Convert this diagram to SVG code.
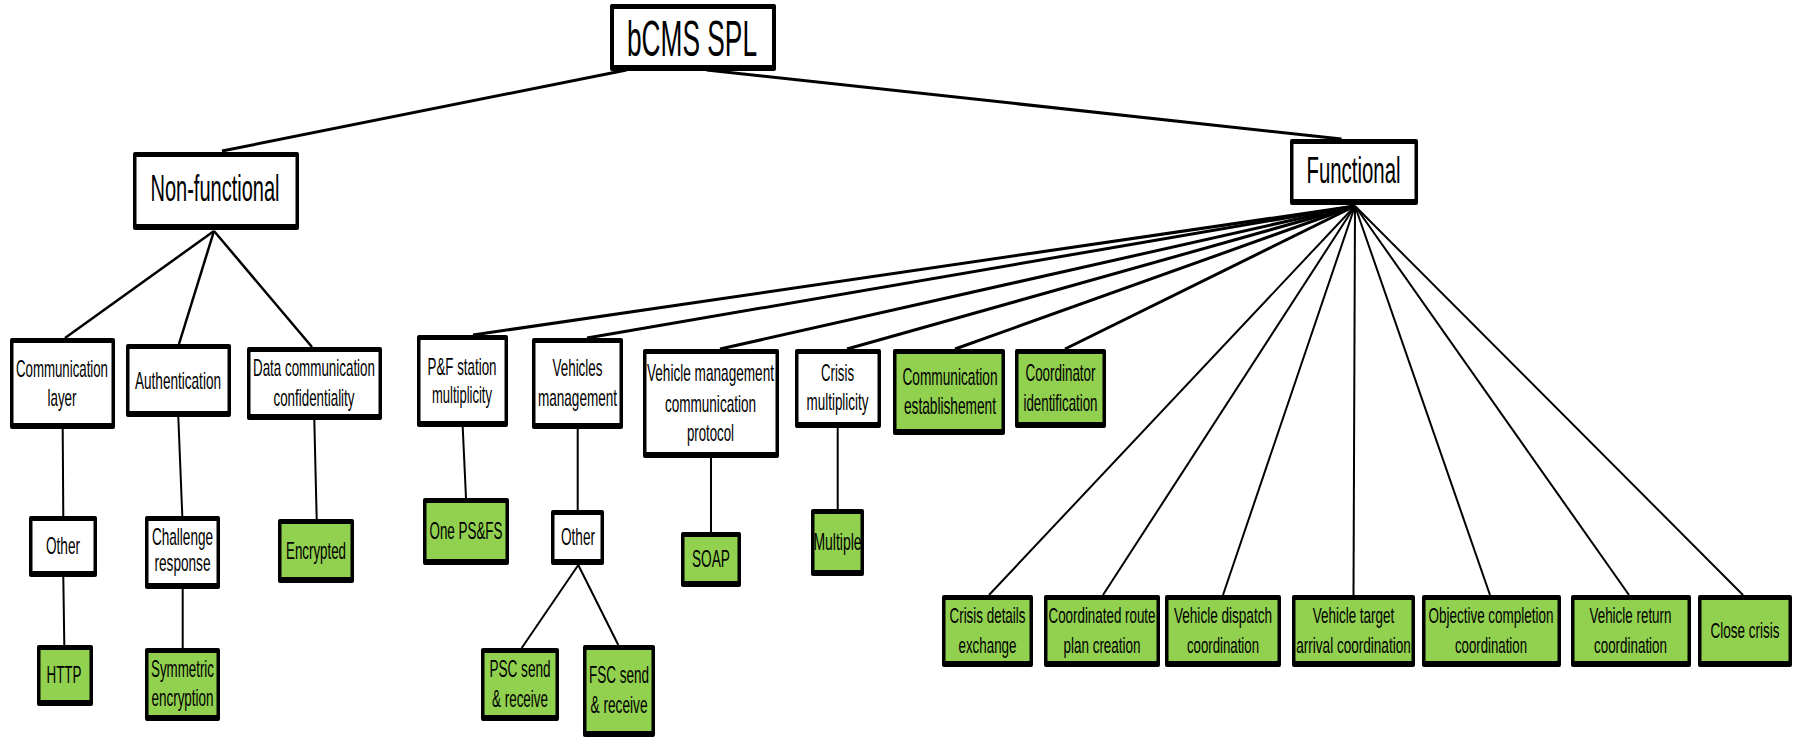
<svg xmlns="http://www.w3.org/2000/svg" width="1793" height="740" viewBox="0 0 1793 740">
<style>
.frame{fill:#000}
.w{fill:#fff}
.g{fill:#92d050}
text{font-family:"Liberation Sans",Arial,sans-serif;font-size:24px;fill:#000;text-anchor:middle}
.s{font-size:22px}
.big{font-size:36px}
.huge{font-size:50px}
.c1{stroke:#000;stroke-width:3;fill:none}
.c2{stroke:#000;stroke-width:2.5;fill:none}
.c3{stroke:#000;stroke-width:2;fill:none}
</style>
<rect width="1793" height="740" fill="#fff"/>
<g id="connectors">
<line class="c1" x1="626.5" y1="70" x2="222" y2="151"/>
<line class="c1" x1="706.6" y1="70" x2="1341.5" y2="139"/>
<line class="c2" x1="214" y1="231" x2="65" y2="338"/>
<line class="c2" x1="214" y1="231" x2="179" y2="344"/>
<line class="c2" x1="214" y1="231" x2="312" y2="347"/>
<line class="c1" x1="1355" y1="206" x2="473" y2="335"/>
<line class="c1" x1="1355" y1="206" x2="587" y2="338"/>
<line class="c1" x1="1355" y1="206" x2="720" y2="349"/>
<line class="c1" x1="1355" y1="206" x2="847" y2="349"/>
<line class="c1" x1="1355" y1="206" x2="955" y2="349"/>
<line class="c1" x1="1355" y1="206" x2="1065" y2="349"/>
<line class="c3" x1="1355" y1="206" x2="989" y2="595"/>
<line class="c3" x1="1355" y1="206" x2="1103" y2="595"/>
<line class="c3" x1="1355" y1="206" x2="1223" y2="595"/>
<line class="c3" x1="1355" y1="206" x2="1353.5" y2="595"/>
<line class="c3" x1="1355" y1="206" x2="1490" y2="595"/>
<line class="c3" x1="1355" y1="206" x2="1629" y2="595"/>
<line class="c3" x1="1355" y1="206" x2="1743" y2="595"/>
<line class="c3" x1="62.7" y1="429" x2="63.3" y2="516"/>
<line class="c3" x1="63.3" y1="577" x2="64.3" y2="645"/>
<line class="c3" x1="178.3" y1="417" x2="182.3" y2="516"/>
<line class="c3" x1="182.7" y1="589" x2="182.7" y2="648"/>
<line class="c3" x1="314.3" y1="420" x2="316.7" y2="519"/>
<line class="c3" x1="462.7" y1="427" x2="466" y2="498"/>
<line class="c3" x1="577.7" y1="429" x2="577.7" y2="510"/>
<line class="c3" x1="578.3" y1="565" x2="521.7" y2="648"/>
<line class="c3" x1="578.3" y1="565" x2="618.3" y2="645"/>
<line class="c3" x1="711" y1="458" x2="711" y2="532"/>
<line class="c3" x1="837.7" y1="428" x2="837.7" y2="509"/>
</g>

<g id="n-root"><rect class="frame" x="610" y="4" width="166" height="67" rx="2"/><rect class="w" x="614" y="9" width="158" height="56"/><text class="huge" transform="scale(0.56,1)" x="1235.71" y="56" textLength="232.14" lengthAdjust="spacingAndGlyphs">bCMS SPL</text></g>
<g id="n-nonfunctional"><rect class="frame" x="133" y="152" width="166" height="78" rx="2"/><rect class="w" x="136.5" y="157" width="159" height="67"/><text class="big" transform="scale(0.56,1)" x="383.93" y="201.5" textLength="230.36" lengthAdjust="spacingAndGlyphs">Non-functional</text></g>
<g id="n-functional"><rect class="frame" x="1290" y="139" width="128" height="66" rx="2"/><rect class="w" x="1293.5" y="144" width="121" height="55"/><text class="big" transform="scale(0.56,1)" x="2416.96" y="183" textLength="167.86" lengthAdjust="spacingAndGlyphs">Functional</text></g>

<g id="n-commlayer"><rect class="frame" x="10" y="338" width="105" height="91" rx="2"/><rect class="w" x="13.5" y="343" width="98" height="80"/><g transform="scale(0.56,1)"><text x="110.71" y="377" textLength="164.29" lengthAdjust="spacingAndGlyphs">Communication</text><text x="110.71" y="406" textLength="51.79" lengthAdjust="spacingAndGlyphs">layer</text></g></g>
<g id="n-auth"><rect class="frame" x="126" y="344" width="105" height="73" rx="2"/><rect class="w" x="129.5" y="349" width="98" height="62"/><g transform="scale(0.56,1)"><text x="317.86" y="389" textLength="153.57" lengthAdjust="spacingAndGlyphs">Authentication</text></g></g>
<g id="n-datacomm"><rect class="frame" x="247" y="347" width="135" height="73" rx="2"/><rect class="w" x="250.5" y="352" width="128" height="62"/><g transform="scale(0.56,1)"><text x="560.71" y="376" textLength="217.86" lengthAdjust="spacingAndGlyphs">Data communication</text><text x="560.71" y="406" textLength="144.64" lengthAdjust="spacingAndGlyphs">confidentiality</text></g></g>
<g id="n-pf"><rect class="frame" x="417" y="335" width="91" height="92" rx="2"/><rect class="w" x="420.5" y="340" width="84" height="81"/><g transform="scale(0.56,1)"><text x="825" y="375" textLength="123.21" lengthAdjust="spacingAndGlyphs">P&amp;F station</text><text x="825" y="403" textLength="107.14" lengthAdjust="spacingAndGlyphs">multiplicity</text></g></g>
<g id="n-vehmgmt"><rect class="frame" x="532" y="338" width="91" height="91" rx="2"/><rect class="w" x="535.5" y="343" width="84" height="80"/><g transform="scale(0.56,1)"><text x="1031.25" y="376" textLength="89.29" lengthAdjust="spacingAndGlyphs">Vehicles</text><text x="1031.25" y="406" textLength="141.07" lengthAdjust="spacingAndGlyphs">management</text></g></g>
<g id="n-vmcp"><rect class="frame" x="643" y="349" width="136" height="109" rx="2"/><rect class="w" x="646.5" y="354" width="129" height="98"/><g transform="scale(0.56,1)"><text x="1268.75" y="381.5" textLength="226.79" lengthAdjust="spacingAndGlyphs">Vehicle management</text><text x="1268.75" y="412.5" textLength="162.5" lengthAdjust="spacingAndGlyphs">communication</text><text x="1268.75" y="441.5" textLength="83.93" lengthAdjust="spacingAndGlyphs">protocol</text></g></g>
<g id="n-crisismult"><rect class="frame" x="795" y="349" width="86" height="79" rx="2"/><rect class="w" x="798.5" y="354" width="79" height="68"/><g transform="scale(0.56,1)"><text x="1495.54" y="381.5" textLength="58.93" lengthAdjust="spacingAndGlyphs">Crisis</text><text x="1495.54" y="410" textLength="110.71" lengthAdjust="spacingAndGlyphs">multiplicity</text></g></g>
<g id="n-commest"><rect class="frame" x="893" y="349" width="112" height="86" rx="2"/><rect class="g" x="896.5" y="354" width="105" height="75"/><g transform="scale(0.56,1)"><text x="1696.43" y="385" textLength="169.64" lengthAdjust="spacingAndGlyphs">Communication</text><text x="1696.43" y="414" textLength="164.29" lengthAdjust="spacingAndGlyphs">establishement</text></g></g>
<g id="n-coord"><rect class="frame" x="1015" y="349" width="91" height="79" rx="2"/><rect class="g" x="1018.5" y="354" width="84" height="68"/><g transform="scale(0.56,1)"><text x="1893.75" y="381" textLength="125" lengthAdjust="spacingAndGlyphs">Coordinator</text><text x="1893.75" y="411.5" textLength="132.14" lengthAdjust="spacingAndGlyphs">identification</text></g></g>

<g id="n-other1"><rect class="frame" x="29" y="516" width="68" height="61" rx="2"/><rect class="w" x="32.5" y="521" width="61" height="50"/><g transform="scale(0.56,1)"><text x="112.5" y="554" textLength="60.71" lengthAdjust="spacingAndGlyphs">Other</text></g></g>
<g id="n-challenge"><rect class="frame" x="145" y="516" width="75" height="73" rx="2"/><rect class="w" x="148.5" y="521" width="68" height="62"/><g transform="scale(0.56,1)"><text x="325.89" y="545" textLength="108.93" lengthAdjust="spacingAndGlyphs">Challenge</text><text x="325.89" y="571.5" textLength="100" lengthAdjust="spacingAndGlyphs">response</text></g></g>
<g id="n-encrypted"><rect class="frame" x="278" y="519" width="76" height="64" rx="2"/><rect class="g" x="281.5" y="524" width="69" height="53"/><g transform="scale(0.56,1)"><text x="564.29" y="559" textLength="107.14" lengthAdjust="spacingAndGlyphs">Encrypted</text></g></g>
<g id="n-onepsfs"><rect class="frame" x="423" y="498" width="86" height="67" rx="2"/><rect class="g" x="426.5" y="503" width="79" height="56"/><g transform="scale(0.56,1)"><text x="832.14" y="539" textLength="130.36" lengthAdjust="spacingAndGlyphs">One PS&amp;FS</text></g></g>
<g id="n-other2"><rect class="frame" x="551" y="510" width="53" height="55" rx="2"/><rect class="w" x="554.5" y="515" width="46" height="44"/><g transform="scale(0.56,1)"><text x="1032.14" y="545" textLength="60.71" lengthAdjust="spacingAndGlyphs">Other</text></g></g>
<g id="n-soap"><rect class="frame" x="681" y="532" width="60" height="55" rx="2"/><rect class="g" x="684.5" y="537" width="53" height="44"/><g transform="scale(0.56,1)"><text x="1269.64" y="566.7" textLength="67.86" lengthAdjust="spacingAndGlyphs">SOAP</text></g></g>
<g id="n-multiple"><rect class="frame" x="811" y="509" width="53" height="67" rx="2"/><rect class="g" x="814.5" y="514" width="46" height="56"/><g transform="scale(0.56,1)"><text x="1495.54" y="550" textLength="85.71" lengthAdjust="spacingAndGlyphs">Multiple</text></g></g>

<g id="n-http"><rect class="frame" x="37" y="645" width="56" height="61" rx="2"/><rect class="g" x="40.5" y="650" width="49" height="50"/><g transform="scale(0.56,1)"><text x="114.29" y="683" textLength="62.5" lengthAdjust="spacingAndGlyphs">HTTP</text></g></g>
<g id="n-symmetric"><rect class="frame" x="145" y="648" width="75" height="73" rx="2"/><rect class="g" x="148.5" y="653" width="68" height="62"/><g transform="scale(0.56,1)"><text x="325.89" y="677" textLength="112.5" lengthAdjust="spacingAndGlyphs">Symmetric</text><text x="325.89" y="706.5" textLength="110.71" lengthAdjust="spacingAndGlyphs">encryption</text></g></g>
<g id="n-psc"><rect class="frame" x="481" y="648" width="78" height="73" rx="2"/><rect class="g" x="484.5" y="653" width="71" height="62"/><g transform="scale(0.56,1)"><text x="928.57" y="676.7" textLength="108.93" lengthAdjust="spacingAndGlyphs">PSC send</text><text x="928.57" y="707" textLength="100" lengthAdjust="spacingAndGlyphs">&amp; receive</text></g></g>
<g id="n-fsc"><rect class="frame" x="583" y="645" width="72" height="92" rx="2"/><rect class="g" x="586.5" y="650" width="65" height="81"/><g transform="scale(0.56,1)"><text x="1105.36" y="682.7" textLength="107.14" lengthAdjust="spacingAndGlyphs">FSC send</text><text x="1105.36" y="713" textLength="101.79" lengthAdjust="spacingAndGlyphs">&amp; receive</text></g></g>

<g id="n-crisisdetails"><rect class="frame" x="942" y="595" width="91" height="72" rx="2"/><rect class="g" x="945.5" y="600" width="84" height="61"/><g transform="scale(0.56,1)"><text class="s" x="1763.39" y="623.3" textLength="135.71" lengthAdjust="spacingAndGlyphs">Crisis details</text><text class="s" x="1763.39" y="652.7" textLength="103.57" lengthAdjust="spacingAndGlyphs">exchange</text></g></g>
<g id="n-route"><rect class="frame" x="1044" y="595" width="116" height="72" rx="2"/><rect class="g" x="1047.5" y="600" width="109" height="61"/><g transform="scale(0.56,1)"><text class="s" x="1967.86" y="623.3" textLength="191.07" lengthAdjust="spacingAndGlyphs">Coordinated route</text><text class="s" x="1967.86" y="652.7" textLength="137.5" lengthAdjust="spacingAndGlyphs">plan creation</text></g></g>
<g id="n-dispatch"><rect class="frame" x="1165" y="595" width="116" height="72" rx="2"/><rect class="g" x="1168.5" y="600" width="109" height="61"/><g transform="scale(0.56,1)"><text class="s" x="2183.93" y="623.3" textLength="175" lengthAdjust="spacingAndGlyphs">Vehicle dispatch</text><text class="s" x="2183.93" y="652.7" textLength="128.57" lengthAdjust="spacingAndGlyphs">coordination</text></g></g>
<g id="n-target"><rect class="frame" x="1292" y="595" width="123" height="72" rx="2"/><rect class="g" x="1295.5" y="600" width="116" height="61"/><g transform="scale(0.56,1)"><text class="s" x="2416.96" y="623.3" textLength="145.54" lengthAdjust="spacingAndGlyphs">Vehicle target</text><text class="s" x="2416.96" y="652.7" textLength="204.46" lengthAdjust="spacingAndGlyphs">arrival coordination</text></g></g>
<g id="n-objective"><rect class="frame" x="1422" y="595" width="139" height="72" rx="2"/><rect class="g" x="1425.5" y="600" width="132" height="61"/><g transform="scale(0.56,1)"><text class="s" x="2662.5" y="623.3" textLength="223.21" lengthAdjust="spacingAndGlyphs">Objective completion</text><text class="s" x="2662.5" y="652.7" textLength="128.57" lengthAdjust="spacingAndGlyphs">coordination</text></g></g>
<g id="n-return"><rect class="frame" x="1571" y="595" width="120" height="72" rx="2"/><rect class="g" x="1574.5" y="600" width="113" height="61"/><g transform="scale(0.56,1)"><text class="s" x="2911.61" y="623.3" textLength="146.43" lengthAdjust="spacingAndGlyphs">Vehicle return</text><text class="s" x="2911.61" y="652.7" textLength="130.36" lengthAdjust="spacingAndGlyphs">coordination</text></g></g>
<g id="n-close"><rect class="frame" x="1698" y="595" width="94" height="72" rx="2"/><rect class="g" x="1701.5" y="600" width="87" height="61"/><g transform="scale(0.56,1)"><text class="s" x="3116.07" y="638" textLength="123.21" lengthAdjust="spacingAndGlyphs">Close crisis</text></g></g>
</svg>
